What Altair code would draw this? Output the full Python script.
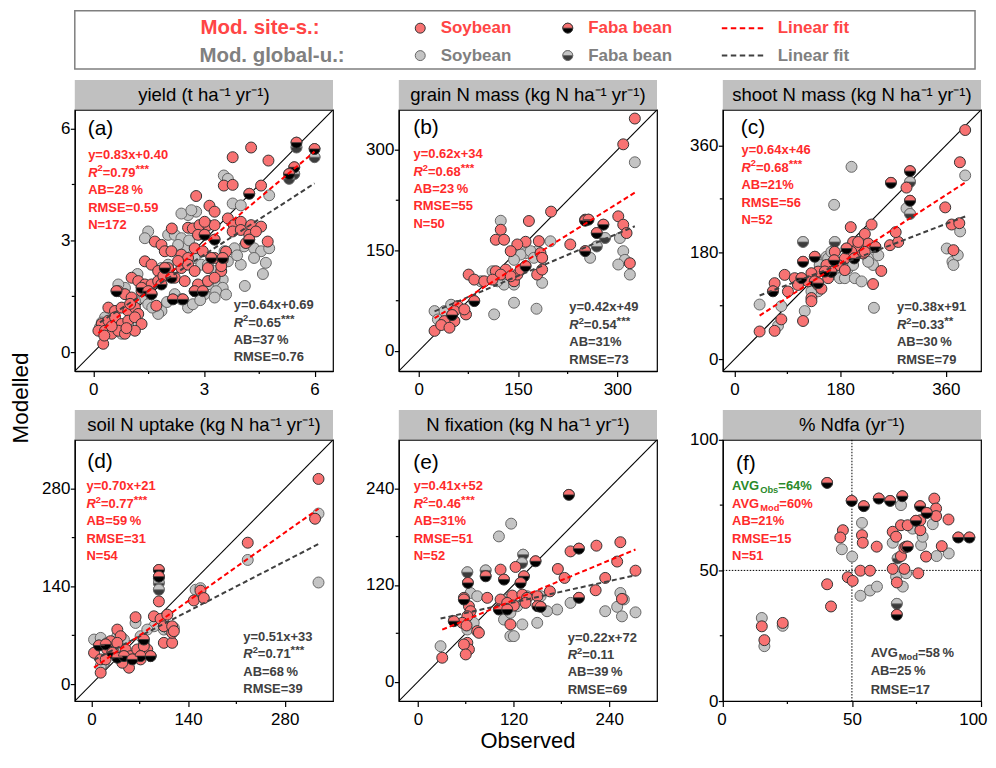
import re
import altair as alt
import pandas as pd

# ---------------- data: (observed, modelled) ----------------
# (a) yield
A_RED_SOY = [(3.78,5.23),(4.28,5.49),(4.75,5.14),(3.54,4.47),(3.78,4.49),(4.55,4.47),(2.79,4.19),(3.15,3.93),(3.29,3.77),
             (2.13,3.32),(2.57,3.34),(2.70,3.32),(2.88,3.41),(3.11,3.41),(3.29,3.41),(3.65,3.59),(3.81,3.41),(4.00,3.50),
             (4.28,3.41),(4.55,3.37),(4.73,2.97),(4.14,2.93),(1.67,2.97),(1.85,2.88),(1.94,2.71),(2.12,2.71),(2.39,2.62),
             (2.57,2.53),(2.75,2.79),(2.97,2.71),(1.40,2.44),(1.58,2.35),(1.76,2.18),(2.03,2.26),(2.39,2.26),(2.57,2.35),
             (2.75,2.18),(3.11,2.26),(3.47,2.18),(1.04,2.00),(1.22,1.91),(1.40,1.82),(1.58,1.82),(1.76,1.91),(2.21,2.00),
             (2.48,1.91),(2.84,1.82),(3.11,1.91),(3.29,2.00),(0.68,1.64),(0.86,1.56),(1.04,1.47),(1.31,1.64),(1.58,1.56),
             (1.71,1.25),(0.41,1.20),(0.59,1.11),(0.77,1.20),(0.95,1.11),(1.13,1.20),(1.22,1.03),(0.23,0.76),(0.41,0.85),
             (0.59,0.94),(0.77,0.76),(0.95,0.85),(1.13,0.94),(1.31,0.76),(0.14,0.58),(0.32,0.58),(0.50,0.50),(0.68,0.58),
             (0.86,0.50),(1.13,0.58),(0.27,0.23),(3.29,2.53),(3.51,2.49),(3.47,2.31),(3.78,3.24),(4.00,3.28),(4.23,3.15),
             (4.41,3.24),(3.60,2.70),(3.02,3.50),(2.84,3.15),(0.50,0.70),(0.90,0.65),(1.00,1.30),(1.90,2.05),(2.30,2.45),(0.30,0.45)]
A_RED_FABA = [(5.51,5.62),(6.00,5.45),(5.45,4.96),(5.31,4.78),(4.23,4.25),(3.02,3.15),(3.29,3.02),(4.23,3.02),(3.20,2.53),
              (3.51,2.53),(1.94,2.26),(2.12,2.00),(0.63,1.64),(1.31,1.73),(1.49,1.64),(1.58,1.56),(1.85,1.82),(2.16,1.42),
              (2.43,1.42),(2.75,1.64),(2.97,1.64)]
A_GRAY_SOY = [(3.54,4.74),(3.65,4.65),(4.77,4.21),(2.79,3.77),(2.57,3.68),(3.78,3.99),(4.00,3.94),(2.03,3.15),(2.21,3.15),
              (2.39,3.06),(4.09,2.84),(4.36,2.79),(4.55,2.71),(4.77,2.79),(4.36,2.53),(4.68,2.40),(3.56,2.71),(3.83,2.79),
              (2.75,2.53),(2.93,2.35),(3.11,2.35),(3.29,2.18),(3.51,1.95),(3.29,1.87),(3.11,1.82),(3.51,1.73),(3.33,1.64),
              (3.02,1.56),(2.75,1.64),(3.29,1.47),(4.11,1.78),(2.21,1.56),(2.39,1.42),(2.57,1.20),(2.70,1.29),(1.85,1.11),
              (1.76,1.03),(1.31,1.47),(1.49,1.29),(1.13,1.38),(0.86,1.73),(0.68,1.82),(0.32,0.94),(0.23,0.80),(0.18,0.67),
              (0.59,0.58),(0.77,0.50),(0.95,0.76),(1.49,3.24),(1.40,3.06),(2.39,3.72),(2.66,3.81),(2.03,2.35),(1.85,2.26),
              (3.65,2.44),(4.00,2.35),(2.48,2.79),(2.30,2.88),(1.60,1.20),(2.00,1.35),(2.90,1.40),(3.60,1.55),(1.20,2.10),
              (2.60,3.00),(3.90,2.60),(4.60,2.10)]
A_GRAY_FABA = [(5.51,5.49),(6.00,5.23),(5.31,4.65),(5.45,4.78)]
A_RED_FIT, A_GRAY_FIT = (0.83, 0.40), (0.64, 0.69)
A_RED_STATS = ["y=0.83x+0.40", "{i:R}{sup:2}=0.79{sup:***}", "AB=28\u2009%", "RMSE=0.59", "N=172"]
A_GRAY_STATS = ["y=0.64x+0.69", "{i:R}{sup:2}=0.65{sup:***}", "AB=37\u2009%", "RMSE=0.76"]

# (b) grain N mass
B_RED_SOY = [(326.5,347),(309,308.5),(200,208),(166.5,194),(124,181),(116.5,166),(129,166),(161.5,163),(149,159),(139,149),
             (181.5,164),(184,146),(229,159),(301.5,201),(309,188.5),(314,176),(319,131),(251.5,196),(75.5,114),(84,106.5),
             (116.5,119),(131.5,121.5),(124,114),(99,104),(111.5,106.5),(144,104),(149,114),(139,111.5),(179,114),
             (186.5,121.5),(186.5,139),(59,67),(71.5,54.5),(54,44.6),(39,44.6),(24,30),(34,38.7),(46.5,34.7),(54,59.5),
             (69,62),(154,121.5)]
B_RED_FABA = [(50.5,53.6),(84,74.4),(161.5,126.5),(251.5,194.4),(256.5,196),(269,176),(279,188.5),(251.5,149)]
B_GRAY_SOY = [(326.5,281.7),(124,194.4),(199,163.7),(179,149),(186.5,139),(161.5,146),(154,144),(144,136),(169,149),(174,139),
              (129,99),(119,104),(144,99),(114,54.6),(144,72),(178,63),(186.5,101.7),(259,139),(304,168.6),(309,149),
              (311.5,136),(301.5,129),(319,114),(24,59.5),(29,47),(39,59.5),(49,69),(94,104),(111.5,119)]
B_GRAY_FABA = [(269,156),(281.5,168.6)]
B_RED_FIT, B_GRAY_FIT = (0.62, 34), (0.42, 49)
B_RED_STATS = ["y=0.62x+34", "{i:R}{sup:2}=0.68{sup:***}", "AB=23\u2009%", "RMSE=55", "N=50"]
B_GRAY_STATS = ["y=0.42x+49", "{i:R}{sup:2}=0.54{sup:***}", "AB=31%", "RMSE=73"]

# (c) shoot N mass
C_RED_SOY = [(393,386),(384,331.7),(293,289),(359,255.7),(370,226.8),(383,229),(373,183.6),(198,222.4),(233.5,226.8),
             (222,211),(202,197.4),(210.7,189),(227.8,194.7),(219,178),(264.8,192),(279,197.4),(274.6,214),(250,148.6),
             (236,126.5),(199,180.8),(188,169.7),(176.5,158.6),(188,150),(156.6,158.6),(142.4,147.5),(159.5,136.4),
             (131,144.8),(125.3,131),(142.4,125),(148,118.7),(131,103),(131,97.6),(85.4,142),(102.5,136.4),(108,125),
             (68.3,128),(91,114),(79.7,67),(116.7,64.3),(68.3,47.7),(42.7,46.6),(170.8,180.8),(210.7,197.4),(222,180.8)]
C_RED_FABA = [(299,316.7),(266.5,297),(299,266.8),(240,189),(190.8,186.4),(204,169.7),(169.7,166.5),(165,147),(153.8,147.5),
              (136.7,172.5),(116.7,164),(114,136.4),(136.7,131),(142.4,128),(65.5,114.3)]
C_GRAY_SOY = [(199.3,324),(169.7,260),(393,309.5),(293,254),(361.6,186.4),(371.3,164.2),(380.4,175.3),(384.4,215.2),
              (373,158.6),(237.5,86.5),(119.6,81),(79.7,89.3),(42.7,92),(74,56),(179.4,136.4),(188,136.4),(205,136.4),
              (216.4,131),(227.8,169.7),(193.6,153),(202,158.6),(236,158.6),(145,158.6),(156.6,172.5),(142.4,114.3),
              (131,114.3),(159.5,169.7),(227.8,164),(245,175),(179.4,155),(165,180.8)]
C_GRAY_FABA = [(116.7,197.4),(170.8,197.4),(299,244.6),(299,298.4)]
C_RED_FIT, C_GRAY_FIT = (0.64, 46), (0.38, 91)
C_RED_STATS = ["y=0.64x+46", "{i:R}{sup:2}=0.68{sup:***}", "AB=21%", "RMSE=56", "N=52"]
C_GRAY_STATS = ["y=0.38x+91", "{i:R}{sup:2}=0.33{sup:**}", "AB=30\u2009%", "RMSE=79"]

# (d) soil N uptake
D_RED_SOY = [(329,294),(324,237),(226.5,202.7),(158,134),(148.4,120),(162.9,123.4),(97.8,118.6),(64,96),(90.6,97.3),
             (100.2,93.5),(110,99.7),(105,83),(105,59.3),(117,59.3),(117,73.6),(13.5,16.6),(3.9,45),(13.5,35.6),(23,49.8),
             (28,61.7),(37.6,78.3),(42.4,68.8),(49.6,49.8),(37.6,59.3),(56.9,40.3),(66.5,49.8),(71.3,35.6),(81,49.8),
             (54.5,23.7),(32.8,45),(44.8,30.8),(20.7,35.6),(76,54.6),(85.8,40.3),(117,83),(119.5,76)]
D_RED_FABA = [(97.8,163.7),(97.8,154),(11,55.5),(37.6,38),(47.2,40.3),(59.3,35.6),(71.3,40.3),(85.8,40.3),(30.4,45),
              (76,64),(20.7,57)]
D_GRAY_SOY = [(329,244.4),(329,145.7),(226.5,178),(151,135.3),(158,137.6),(64,87.8),(90.6,83),(105,78.3),(3.9,64),
              (13.5,66.4),(23,59.3),(71.3,68.8),(81,78.3),(76,59.3),(112.3,78.3),(119.5,80.7),(18.3,30.8),(13.5,26.1),
              (47.2,64),(37.6,68.8)]
D_GRAY_FABA = [(97.8,144.8),(97.8,135.3),(97.8,151.9)]
D_RED_FIT, D_GRAY_FIT = (0.70, 21), (0.51, 33)
D_RED_STATS = ["y=0.70x+21", "{i:R}{sup:2}=0.77{sup:***}", "AB=59\u2009%", "RMSE=31", "N=54"]
D_GRAY_STATS = ["y=0.51x+33", "{i:R}{sup:2}=0.71{sup:***}", "AB=68\u2009%", "RMSE=39"]

# (e) N fixation
E_RED_SOY = [(254,173),(250,149),(273,137.7),(224,168.7),(191.5,161.6),(175.6,139.8),(184,128.7),(235,128.7),(223,113.4),
             (256,102.7),(165.6,112),(103.7,139),(122.5,142.3),(118.4,106.8),(131,108),(137,104),(150,106),(87,104),
             (103.7,101.9),(112,97.7),(120.4,94.4),(57.7,104),(64,93.6),(66,87.4),(62,81.2),(55.7,73),(61,69.7),
             (74.4,62.7),(76.5,60.6),(116,71),(62,48.2),(64,40),(57.7,46.2),(60,33.8),(30.5,29.7),(135,97.7)]
E_RED_FABA = [(189.4,231.7),(202,165),(147.6,149.3),(133,130.7),(128.8,122.5),(108,126.6),(85,130.7),(62.7,122.5),
              (57.7,101.9),(101.6,89.5),(112,89.5),(150,93.6),(154,92.8),(202,104),(45,75)]
E_GRAY_SOY = [(117,196),(101.6,180.2),(28.4,44),(191.5,97.7),(174.7,89.5),(162,87.4),(149.7,73),(131,71),(116,56.5),
              (120.4,56.5),(108,77),(154,106),(254,110),(258.4,102),(250,92.8),(256,81),(273,86),(235,87.4),(116,85.4),
              (124.6,93.6),(62,64.7),(70,73),(66,110),(74.4,106),(137,106),(112,101.9)]
E_GRAY_FABA = [(132,157.5),(62,135.7),(130.5,147.2),(85,138)]
E_RED_FIT, E_GRAY_FIT = (0.41, 52), (0.22, 72)
E_RED_STATS = ["y=0.41x+52", "{i:R}{sup:2}=0.46{sup:***}", "AB=31%", "RMSE=51", "N=52"]
E_GRAY_STATS = ["y=0.22x+72", "{i:R}{sup:2}=0.11", "AB=39\u2009%", "RMSE=69"]

# (f) % Ndfa
F_RED_SOY = [(40.4,44.7),(41.9,36.2),(15.1,28.6),(16.1,23.3),(23.2,29.9),(46.5,65.4),(45.5,62.6),(48.4,47.4),(50.3,46),
             (53.3,49.9),(57,49.9),(53.9,63.5),(54.2,60.6),(59.6,59.1),(65.8,50.6),(70.3,50.6),(67.4,45.4),(69,55.5),
             (70.3,58.7),(65.8,64.8),(67.1,62.9),(69,67.3),(71.6,67.3),(71,59.1),(75.7,48.9),(76.5,65.4),(76.5,69.2),
             (78.7,55.3),(81.9,77.5),(82.6,73.7),(82.6,70.8),(84.8,59.3),(87.4,69.5)]
F_RED_FABA = [(40.4,83.5),(49.9,76.6),(54.6,74.6),(60.4,77.5),(64.8,76.6),(69.5,78.4),(76.4,74.6),(74.8,69),(79,72),
              (91.2,62.6),(95.5,62.6),(67.4,33),(71.6,59.1)]
F_GRAY_SOY = [(15.1,31.8),(16.1,21),(23.2,28.8),(53.9,68.2),(46.1,58.1),(50.1,55.3),(53.3,40.3),(57,42.3),(59.7,43.8),
              (65.8,60.6),(67.1,47.6),(69.7,43.8),(69,75),(71,48.9),(76.8,59.7),(77.4,62.9),(81.3,67.7),(82.8,55.5),
              (87.5,56.5),(73.5,66)]
F_GRAY_FABA = [(67.4,37.2),(67.7,54.6)]
F_RED_STATS = ["AVG{sub:Obs} =64%", "AVG{sub:Mod} =60%", "AB=21%", "RMSE=15", "N=51"]
F_GRAY_STATS = ["AVG{sub:Mod} =58\u2009%", "AB=25\u2009%", "RMSE=17"]

TITLES = ["yield (t ha\u207b\u00b9 yr\u207b\u00b9)", "grain N mass (kg N ha\u207b\u00b9 yr\u207b\u00b9)",
          "shoot N mass (kg N ha\u207b\u00b9 yr\u207b\u00b9)", "soil N uptake (kg N ha\u207b\u00b9 yr\u207b\u00b9)",
          "N fixation (kg N ha\u207b\u00b9 yr\u207b\u00b9)", "% Ndfa (yr\u207b\u00b9)"]
LETTERS = ["(a)", "(b)", "(c)", "(d)", "(e)", "(f)"]
DOMAINS = [[-0.5, 6.5], [-30, 360], [-20, 420], [-24, 350], [-24, 300], [0, 100]]
TICKS = [[0, 3, 6], [0, 150, 300], [0, 180, 360], [0, 140, 280], [0, 120, 240], [0, 50, 100]]
MINOR = [[1.5, 4.5], [75, 225], [90, 270], [70, 210], [60, 180], [25, 75]]

# legend labels
LEG_GROUPS = ["Mod. site-s.:", "Mod. global-u.:"]
LEG_ITEMS = ["Soybean", "Faba bean", "Linear fit"]

# ---------------- styling / layout ----------------
FONT = "Liberation Sans"
RED_FILL, GRAY_FILL = "#F87272", "#C4C4C4"
RED_BOTTOM, GRAY_BOTTOM = "#000000", "#3C3C3C"
RED_STROKE, GRAY_STROKE = "#333333", "#666666"
RED_TXT, GRAY_TXT, GREEN_TXT = "#FF2B2B", "#404040", "#2A8A2A"
LEG_RED, LEG_GRAY = "#FF4545", "#808080"
TOP_HALF = "M -1 0 A 1 1 0 0 1 1 0 Z"
MS = 121
W, H = 259, 262

LAYOUT = [
    dict(letter=(13, 19.5), red=(13.4, 45.5, 17.5), gray=(159.4, 196, 17.4)),
    dict(letter=(14.5, 18.5), red=(14.7, 44.7, 17.4), gray=(171, 198, 17.5)),
    dict(letter=(18, 18.5), red=(18.7, 40.5, 17.5), gray=(174.7, 198, 17.5)),
    dict(letter=(12.5, 22.5), red=(11.7, 46.6, 17.5), gray=(169, 197.3, 17.6)),
    dict(letter=(14.5, 23.3), red=(15, 46.7, 17.5), gray=(169.4, 198.3, 17.5)),
    dict(letter=(13.3, 24), red=(9.3, 46.4, 17.6), gray=(148.3, 214, 18.3)),
]

EM = {' ': 0.278, '\u2009': 0.2, '%': 0.889, '(': 0.333, ')': 0.333, '*': 0.389, '+': 0.584, '-': 0.333,
      '.': 0.278, ':': 0.333, '=': 0.584, 'A': 0.722, 'B': 0.722, 'E': 0.667, 'G': 0.778, 'M': 0.833,
      'N': 0.722, 'O': 0.778, 'R': 0.722, 'S': 0.667, 'V': 0.667, 'a': 0.556, 'b': 0.611, 'd': 0.611,
      'e': 0.556, 'o': 0.611, 's': 0.556, 'x': 0.556, 'y': 0.556}


def tw(s, size):
    return sum(EM.get(c, 0.556) for c in s) * size


TOKEN = re.compile(r"\{(\w+):([^}]*)\}")


def rich_rows(markup, x0, y0, color, size=13):
    parts, pos = [], 0
    for m in TOKEN.finditer(markup):
        if m.start() > pos:
            parts.append(("n", markup[pos:m.start()]))
        parts.append((m.group(1), m.group(2)))
        pos = m.end()
    if pos < len(markup):
        parts.append(("n", markup[pos:]))
    rows, x = [], x0
    for kind, txt in parts:
        s, dy, st = size, 0.0, "normal"
        if kind == "i":
            st = "italic"
        elif kind == "sup":
            if "*" in txt:
                s, dy = size * 0.9, -size * 0.3
            else:
                s, dy = size * 0.72, -size * 0.32
        elif kind == "sub":
            s, dy = size * 0.72, size * 0.32
        rows.append(dict(px=x, py=y0 + dy, text=txt, color=color, size=s, style=st))
        x += tw(txt, s)
    return rows


def pts(lst):
    return pd.DataFrame({"x": [p[0] for p in lst], "y": [p[1] for p in lst]})


def scatter_layers(X, Y, soy, faba, fill, bottom, stroke):
    out = [alt.Chart(pts(soy)).mark_point(shape="circle", filled=True, size=MS, fill=fill, stroke=stroke,
                                           strokeWidth=1, opacity=1).encode(x=X, y=Y)]
    if faba:
        out.append(alt.Chart(pts(faba)).mark_point(shape="circle", filled=True, size=MS, fill=bottom, stroke=stroke,
                                                   strokeWidth=1, opacity=1).encode(x=X, y=Y))
        out.append(alt.Chart(pts(faba)).mark_point(shape=TOP_HALF, filled=True, size=MS, fill=fill, stroke=stroke,
                                                   strokeWidth=0.8, opacity=1).encode(x=X, y=Y))
    return out


def fit_layer(X, Y, series, coef, color):
    xs = [min(p[0] for p in series), max(p[0] for p in series)]
    df = pd.DataFrame({"x": xs, "y": [coef[0] * v + coef[1] for v in xs]})
    return alt.Chart(df).mark_line(color=color, strokeDash=[5, 3], strokeWidth=2, clip=True).encode(x=X, y=Y)


def text_layers(rows):
    df = pd.DataFrame(rows)
    out = []
    for st in ["normal", "italic"]:
        sub = df[df["style"] == st]
        if len(sub):
            out.append(alt.Chart(sub).mark_text(font=FONT, fontWeight="bold", fontStyle=st, align="left",
                                                baseline="middle").encode(
                x=alt.X("px:Q", scale=None, axis=None), y=alt.Y("py:Q", scale=None, axis=None),
                text="text:N", color=alt.Color("color:N", scale=None), size=alt.Size("size:Q", scale=None)))
    return out


ONE = pd.DataFrame({"k": [0]})


def legend_layers():
    # legend box sits above panel (a); positions relative to panel (a) origin
    top, lw, lh = -99.4, 903, 58.4
    r1, r2 = top + 17.5, top + 45
    out = [alt.Chart(ONE).mark_rect(fillOpacity=0, stroke="#7F7F7F", strokeWidth=1.5).encode(
        x=alt.value(0), x2=alt.value(lw), y=alt.value(top), y2=alt.value(top + lh))]
    rows = []
    for yy, grp, col, gx in [(r1, LEG_GROUPS[0], LEG_RED, 126), (r2, LEG_GROUPS[1], LEG_GRAY, 125)]:
        rows.append(dict(px=gx, py=yy, text=grp, color=col, size=20.5, style="normal"))
        for item, ix in zip(LEG_ITEMS, [367, 515, 705]):
            rows.append(dict(px=ix, py=yy, text=item, color=col, size=17, style="normal"))
    out += text_layers(rows)
    for yy, fill, bottom, stroke, line in [(r1, RED_FILL, RED_BOTTOM, RED_STROKE, "#FF0000"),
                                           (r2, GRAY_FILL, GRAY_BOTTOM, GRAY_STROKE, "#404040")]:
        out.append(alt.Chart(ONE).mark_point(shape="circle", filled=True, size=100, fill=fill, stroke=stroke,
                                             strokeWidth=1, opacity=1).encode(x=alt.value(346.5), y=alt.value(yy)))
        out.append(alt.Chart(ONE).mark_point(shape="circle", filled=True, size=100, fill=bottom, stroke=stroke,
                                             strokeWidth=1, opacity=1).encode(x=alt.value(494.5), y=alt.value(yy)))
        out.append(alt.Chart(ONE).mark_point(shape=TOP_HALF, filled=True, size=100, fill=fill, stroke=stroke,
                                             strokeWidth=0.8, opacity=1).encode(x=alt.value(494.5), y=alt.value(yy)))
        out.append(alt.Chart(ONE).mark_rule(color=line, strokeWidth=2, strokeDash=[5.5, 3.5]).encode(
            x=alt.value(649), x2=alt.value(694), y=alt.value(yy)))
    return out


SERIES = [
    (A_RED_SOY, A_RED_FABA, A_GRAY_SOY, A_GRAY_FABA, A_RED_FIT, A_GRAY_FIT, A_RED_STATS, A_GRAY_STATS),
    (B_RED_SOY, B_RED_FABA, B_GRAY_SOY, B_GRAY_FABA, B_RED_FIT, B_GRAY_FIT, B_RED_STATS, B_GRAY_STATS),
    (C_RED_SOY, C_RED_FABA, C_GRAY_SOY, C_GRAY_FABA, C_RED_FIT, C_GRAY_FIT, C_RED_STATS, C_GRAY_STATS),
    (D_RED_SOY, D_RED_FABA, D_GRAY_SOY, D_GRAY_FABA, D_RED_FIT, D_GRAY_FIT, D_RED_STATS, D_GRAY_STATS),
    (E_RED_SOY, E_RED_FABA, E_GRAY_SOY, E_GRAY_FABA, E_RED_FIT, E_GRAY_FIT, E_RED_STATS, E_GRAY_STATS),
    (F_RED_SOY, F_RED_FABA, F_GRAY_SOY, F_GRAY_FABA, None, None, F_RED_STATS, F_GRAY_STATS),
]


def panel(i):
    rs, rf, gs, gf, rfit, gfit, rstats, gstats = SERIES[i]
    dom = DOMAINS[i]
    lay = LAYOUT[i]
    sc = alt.Scale(domain=dom, nice=False, zero=False)
    xaxis_kw = dict(values=TICKS[i], title=None, format="d", tickSize=5.5, labelPadding=5.5)
    if i == 5:
        xaxis_kw.update(labelFlush=True, labelFlushOffset=6)
    X = alt.X("x:Q", scale=sc, axis=alt.Axis(**xaxis_kw))
    Y = alt.Y("y:Q", scale=sc, axis=alt.Axis(values=TICKS[i], title=None, format="d", tickSize=4.5,
                                             labelPadding=0.5))
    layers = []
    if i == 0:
        layers += legend_layers()
    # title bar
    layers.append(alt.Chart(ONE).mark_rect(color="#C0C0C0").encode(
        x=alt.value(0), x2=alt.value(W), y=alt.value(-30), y2=alt.value(-0.6)))
    layers.append(alt.Chart(ONE).mark_text(font=FONT, fontSize=18.6, align="center", baseline="middle",
                                           color="black").encode(
        x=alt.value(W / 2), y=alt.value(-14.5), text=alt.value(TITLES[i])))
    # minor ticks
    mdf = pd.DataFrame({"x": MINOR[i], "y": MINOR[i]})
    layers.append(alt.Chart(mdf).mark_rule(color="black", strokeWidth=1.2).encode(
        x=X, y=alt.value(H), y2=alt.value(H + 3)))
    layers.append(alt.Chart(mdf).mark_rule(color="black", strokeWidth=1.2).encode(
        y=Y, x=alt.value(0), x2=alt.value(-3)))
    if rfit is not None:
        d11 = pd.DataFrame({"x": dom, "y": dom})
        layers.append(alt.Chart(d11).mark_line(color="black", strokeWidth=1.1, clip=True).encode(x=X, y=Y))
    else:
        ref = pd.DataFrame({"x": [50], "y": [50]})
        layers.append(alt.Chart(ref).mark_rule(color="black", strokeWidth=1, strokeDash=[1.5, 1.5]).encode(
            x=X, y=alt.value(0), y2=alt.value(H)))
        layers.append(alt.Chart(ref).mark_rule(color="black", strokeWidth=1, strokeDash=[1.5, 1.5]).encode(
            y=Y, x=alt.value(0), x2=alt.value(W)))
    layers += scatter_layers(X, Y, gs, gf, GRAY_FILL, GRAY_BOTTOM, GRAY_STROKE)
    layers += scatter_layers(X, Y, rs, rf, RED_FILL, RED_BOTTOM, RED_STROKE)
    if rfit is not None:
        layers.append(fit_layer(X, Y, gs + gf, gfit, "#404040"))
        layers.append(fit_layer(X, Y, rs + rf, rfit, "#FF0000"))
    layers.append(alt.Chart(ONE).mark_text(font=FONT, fontSize=21, align="left", baseline="middle",
                                           color="black").encode(
        x=alt.value(lay["letter"][0]), y=alt.value(lay["letter"][1]), text=alt.value(LETTERS[i])))
    rows = []
    rx, ry, rstep = lay["red"]
    for k, line in enumerate(rstats):
        col = GREEN_TXT if (i == 5 and k == 0) else RED_TXT
        rows += rich_rows(line, rx, ry + k * rstep, col)
    gx, gy, gstep = lay["gray"]
    for k, line in enumerate(gstats):
        rows += rich_rows(line, gx, gy + k * gstep, GRAY_TXT)
    layers += text_layers(rows)
    if i == 3:
        layers.append(alt.Chart(ONE).mark_text(font=FONT, fontSize=22.5, align="center", baseline="middle",
                                               angle=270, color="black").encode(
            x=alt.value(-54), y=alt.value(-42), text=alt.value("Modelled")))
    if i == 4:
        layers.append(alt.Chart(ONE).mark_text(font=FONT, fontSize=22, align="center", baseline="middle",
                                               color="black").encode(
            x=alt.value(W / 2), y=alt.value(H + 40), text=alt.value("Observed")))
    return alt.layer(*layers).properties(width=W, height=H)


chart = alt.concat(*[panel(i) for i in range(6)], columns=3, spacing={"row": 69, "column": 66},
                   bounds="flush").properties(
    padding={"left": 1, "top": 0, "right": 0, "bottom": 0}, background="white"
).configure_view(stroke="black", strokeWidth=1.2).configure_axis(
    labelFont=FONT, labelFontSize=17, labelColor="black", tickColor="black", domainColor="black",
    tickWidth=1.2, domainWidth=1.2, grid=False, labelFlush=False, labelOverlap=False)

chart.save("out.html", embed_options={"renderer": "svg", "actions": False})
